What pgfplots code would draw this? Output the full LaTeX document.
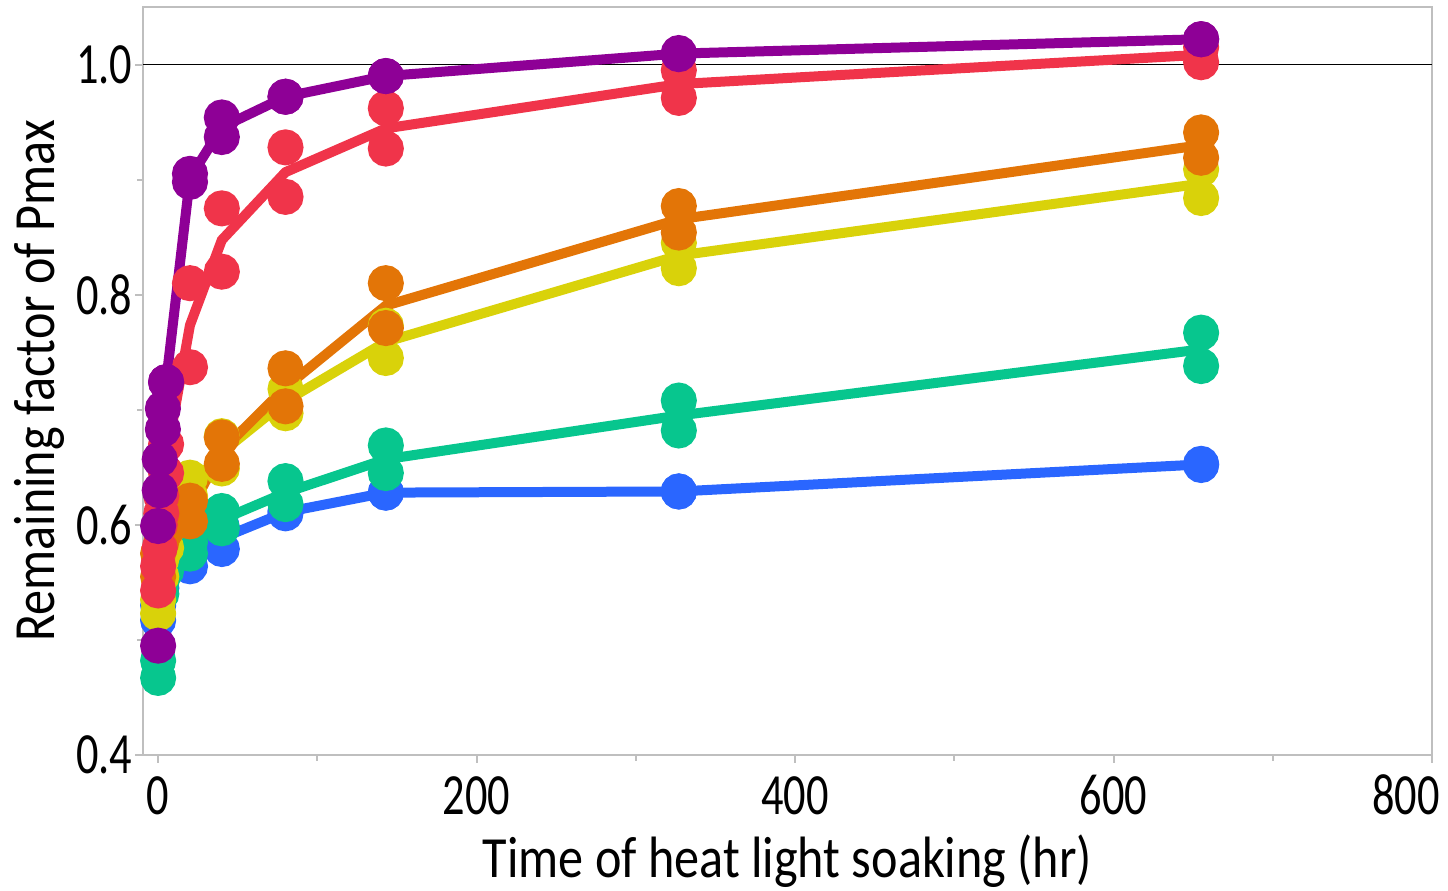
\documentclass[border=0pt]{standalone}
\usepackage{fontspec}
\setmainfont{Carlito}
\newfontfamily\tickfont[FakeStretch=0.76]{Carlito}
\newfontfamily\labfont[FakeStretch=0.86]{Carlito}
\usepackage{pgfplots}
\pgfplotsset{compat=1.18}
\definecolor{cblue}{HTML}{2A66FF}
\definecolor{cgreen}{HTML}{07C68E}
\definecolor{cyellow}{HTML}{D9D20A}
\definecolor{corange}{HTML}{E37507}
\definecolor{cred}{HTML}{F0344A}
\definecolor{cpurple}{HTML}{8E0096}
\definecolor{axisgray}{HTML}{BFBFBF}
\begin{document}
\begin{tikzpicture}
\begin{axis}[
  scale only axis, width=386.7pt, height=224.4pt,
  xmin=-9.5, xmax=800, ymin=0.4, ymax=1.05,
  xtick={0,200,400,600,800}, minor xtick={100,300,500,700},
  xticklabels={0,200,400,600,{\makebox[0pt]{\hspace*{-15.6pt}800}}},
  ytick={0.4,0.6,0.8,1.0}, minor ytick={0.5,0.7,0.9},
  yticklabel style={/pgf/number format/fixed, /pgf/number format/fixed zerofill, /pgf/number format/precision=1},
  /pgf/number format/assume math mode=true,
  xtick pos=bottom, ytick pos=left,
  tick align=outside, major tick length=2.4pt, minor tick length=1.8pt,
  tick style={color=axisgray, line width=0.6pt},
  axis line style={axisgray, line width=0.6pt},
  every tick label/.append style={font=\tickfont\fontsize{17.5}{18}\selectfont, text=black},
  xticklabel style={anchor=base, yshift=-15.6pt},
  yticklabel style={anchor=east, inner xsep=0pt, xshift=-0.6pt},
  xlabel={Time of heat light soaking (hr)},
  ylabel={Remaining factor of Pmax},
  xlabel style={font=\labfont\fontsize{17.5}{20}\selectfont, at={(axis description cs:0.5,-0.1644)}, anchor=base},
  ylabel style={font=\labfont\fontsize{17.5}{20}\selectfont, at={(axis description cs:-0.0683,0.5)}, anchor=base},
  every axis plot/.append style={line width=3pt},
  mark size=3.9pt,
]
\draw[black, line width=0.45pt] (axis cs:-9.5,1) -- (axis cs:800,1);

% blue
\addplot[cblue, no markers] coordinates {(0,0.5235)(2,0.55)(5,0.5675)(20,0.5695)(40,0.5885)(80,0.611)(143,0.628)(327,0.629)(655,0.6525)};
\addplot[only marks, mark=*, cblue, mark options={draw=none, fill=cblue}] coordinates {(0,0.517)(0,0.530)(2,0.545)(2,0.555)(5,0.565)(5,0.570)(20,0.564)(20,0.575)(40,0.579)(40,0.598)(80,0.610)(80,0.612)(143,0.628)(143,0.628)(327,0.629)(327,0.629)(655,0.652)(655,0.653)};
% green
\addplot[cgreen, no markers] coordinates {(0,0.4745)(2,0.545)(5,0.565)(20,0.58)(40,0.6045)(80,0.628)(143,0.657)(327,0.695)(655,0.7525)};
\addplot[only marks, mark=*, cgreen, mark options={draw=none, fill=cgreen}] coordinates {(0,0.467)(0,0.482)(2,0.54)(2,0.55)(5,0.56)(5,0.57)(20,0.575)(20,0.585)(40,0.597)(40,0.612)(80,0.618)(80,0.638)(143,0.645)(143,0.669)(327,0.682)(327,0.708)(655,0.738)(655,0.767)};
% yellow
\addplot[cyellow, no markers] coordinates {(0,0.529)(2,0.5625)(5,0.5875)(20,0.633)(40,0.663)(80,0.7075)(143,0.759)(327,0.834)(655,0.8965)};
\addplot[only marks, mark=*, cyellow, mark options={draw=none, fill=cyellow}] coordinates {(0,0.523)(0,0.535)(2,0.555)(2,0.57)(5,0.58)(5,0.595)(20,0.625)(20,0.641)(40,0.649)(40,0.677)(80,0.697)(80,0.718)(143,0.745)(143,0.773)(327,0.823)(327,0.845)(655,0.884)(655,0.909)};
% orange
\addplot[corange, no markers] coordinates {(0,0.565)(2,0.5925)(5,0.6025)(20,0.612)(40,0.6645)(80,0.7195)(143,0.7905)(327,0.8655)(655,0.93)};
\addplot[only marks, mark=*, corange, mark options={draw=none, fill=corange}] coordinates {(0,0.555)(0,0.575)(2,0.585)(2,0.60)(5,0.595)(5,0.61)(20,0.603)(20,0.621)(40,0.653)(40,0.676)(80,0.703)(80,0.736)(143,0.771)(143,0.810)(327,0.854)(327,0.877)(655,0.919)(655,0.941)};
% red
\addplot[cred, no markers] coordinates {(0,0.5535)(1,0.59)(2,0.6175)(5,0.6575)(20,0.7735)(40,0.8475)(80,0.9065)(143,0.9445)(327,0.983)(655,1.0085)};
\addplot[only marks, mark=*, cred, mark options={draw=none, fill=cred}] coordinates {(0,0.543)(0,0.564)(1,0.58)(1,0.60)(2,0.61)(2,0.625)(5,0.645)(5,0.67)(20,0.737)(20,0.810)(40,0.820)(40,0.875)(80,0.885)(80,0.928)(143,0.927)(143,0.962)(327,0.971)(327,0.995)(655,1.002)(655,1.015)};
% purple
\addplot[cpurple, no markers] coordinates {(0,0.547)(1,0.6435)(3,0.692)(5,0.724)(20,0.9015)(40,0.9455)(80,0.972)(143,0.99)(327,1.0095)(655,1.022)};
\addplot[only marks, mark=*, cpurple, mark options={draw=none, fill=cpurple}] coordinates {(0,0.495)(0,0.599)(1,0.630)(1,0.657)(3,0.683)(3,0.701)(5,0.724)(5,0.724)(20,0.898)(20,0.905)(40,0.937)(40,0.954)(80,0.972)(80,0.972)(143,0.990)(143,0.990)(327,1.009)(327,1.010)(655,1.022)(655,1.022)};
\end{axis}
\pgfresetboundingbox
\path[use as bounding box] ([shift={(-42.9pt,-40.8pt)}]current axis.south west) rectangle ([shift={(4.8pt,2.1pt)}]current axis.north east);
\end{tikzpicture}
\end{document}
